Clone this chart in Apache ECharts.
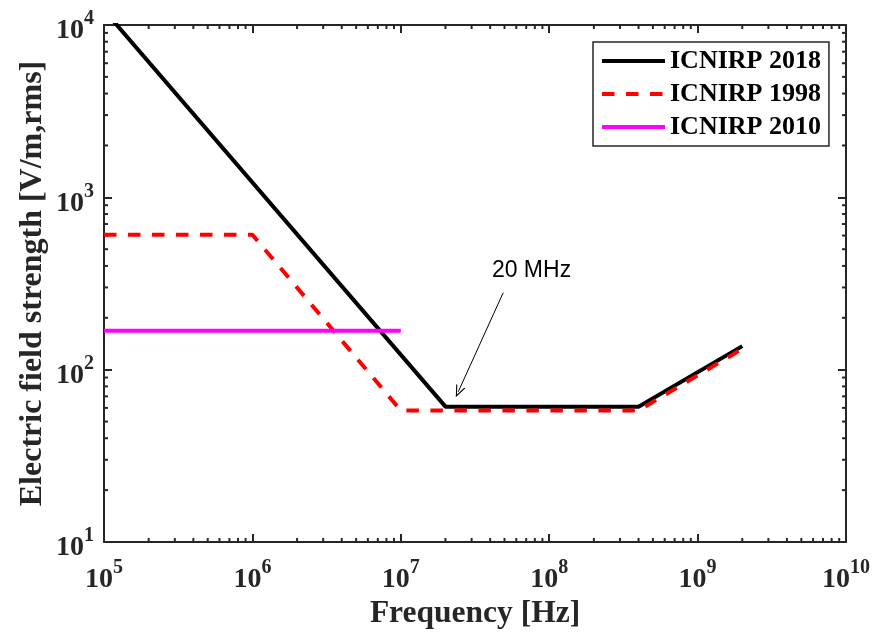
<!DOCTYPE html>
<html>
<head>
<meta charset="utf-8">
<script src="https://cdn.jsdelivr.net/npm/echarts@6/dist/echarts.min.js"></script>
<style>html,body{margin:0;padding:0;background:#fff}#c{width:875px;height:632px}</style>
</head>
<body>
<div id="c"></div>
<script>
// Data
const icnirp2018 = [[1e5, 12200], [2e7, 61], [4e8, 61], [2e9, 137]];
const icnirp1998 = [[1e5, 607], [1e6, 607], [1e7, 58], [4e8, 58], [2e9, 132]];
const icnirp2010 = [[1e5, 168], [1e7, 168]];
const seriesNames = ['ICNIRP 2018', 'ICNIRP 1998', 'ICNIRP 2010'];
const seriesColors = ['#000000', '#ff0000', '#ff00ff'];
const xRange = [1e5, 1e10];
const yRange = [1e1, 1e4];
const arrowTail = [4.9e7, 280];
const arrowTip = [2.44e7, 74.5];
const annotText = '20 MHz';
const annotPos = [7.6e7, 376];

const xMinor = [], yMinor = [];
for (let k = 5; k < 10; k++) for (let m = 2; m < 10; m++) xMinor.push([m * Math.pow(10, k), yRange[0]]);
for (let k = 1; k < 4; k++) for (let m = 2; m < 10; m++) yMinor.push([xRange[0], m * Math.pow(10, k)]);

const AX = '#262626';
const SERIF = '"Liberation Serif","Times New Roman",serif';
const fmt = v => '{b|10}{e|' + Math.round(Math.log10(v)) + '}';
const rich = {
  b: {fontSize: 28, fontWeight: 'bold', fontFamily: SERIF, color: AX, lineHeight: 36, verticalAlign: 'bottom'},
  e: {fontSize: 20, fontWeight: 'bold', fontFamily: SERIF, color: AX, lineHeight: 20, verticalAlign: 'top'}
};
function mkAxis(type, pos, show, extra) {
  return Object.assign({
    type: 'log', logBase: 10, position: pos,
    min: (type === 'x' ? xRange : yRange)[0], max: (type === 'x' ? xRange : yRange)[1],
    axisLine: {show: true, lineStyle: {color: AX, width: 2}},
    axisTick: {show: true, inside: true, length: 8, lineStyle: {color: AX, width: 2}},
    axisLabel: {show: show, formatter: fmt, rich: rich, margin: type === 'x' ? 16 : 10,
      padding: type === 'x' ? 0 : [4, 0, 0, 0]},
    splitLine: {show: false}, minorTick: {show: false}, nameMoveOverlap: false
  }, extra || {});
}

const chart = echarts.init(document.getElementById('c'));
chart.setOption({
  animation: false,
  backgroundColor: '#fff',
  grid: {left: 104, right: 29, top: 25, bottom: 90, containLabel: false, outerBoundsMode: 'none'},
  legend: {
    data: seriesNames.map(n => ({name: n, lineStyle: {width: 4}})),
    orient: 'vertical', left: 593, top: 42,
    itemWidth: 63, itemHeight: 14, itemGap: 5,
    padding: [5, 8, 5, 7],
    borderColor: AX, borderWidth: 1.5, backgroundColor: '#fff',
    itemStyle: {opacity: 0},
    textStyle: {fontSize: 26, fontWeight: 'bold', fontFamily: SERIF, color: '#000', lineHeight: 28}
  },
  xAxis: [
    mkAxis('x', 'bottom', true, {name: 'Frequency [Hz]', nameLocation: 'middle', nameGap: 56,
      nameTextStyle: {fontSize: 31.5, fontWeight: 'bold', fontFamily: SERIF, color: AX}}),
    mkAxis('x', 'top', false)
  ],
  yAxis: [
    mkAxis('y', 'left', true, {name: 'Electric field strength [V/m,rms]', nameLocation: 'middle', nameGap: 55,
      nameTextStyle: {fontSize: 32, fontWeight: 'bold', fontFamily: SERIF, color: AX}}),
    mkAxis('y', 'right', false)
  ],
  series: [
    {name: seriesNames[0], type: 'line', data: icnirp2018, symbol: 'none', clip: true,
      lineStyle: {color: seriesColors[0], width: 4}, itemStyle: {color: seriesColors[0]}, z: 3,
      markLine: {silent: true, symbol: ['none', 'path://M5,0 L10,10 L8.8,10 L5,2.4 L1.2,10 L0,10 Z'], symbolSize: [10, 12],
        lineStyle: {color: '#000', width: 1, type: 'solid'}, label: {show: false},
        data: [[{coord: arrowTail}, {coord: arrowTip}]]},
      markPoint: {silent: true, symbol: 'circle', symbolSize: 0,
        label: {show: true, position: 'inside', formatter: annotText, fontSize: 23, color: '#000', fontFamily: '"Liberation Sans",Arial,sans-serif'},
        data: [{coord: annotPos}]}
    },
    {name: seriesNames[1], type: 'line', data: icnirp1998, symbol: 'none', clip: true,
      lineStyle: {color: seriesColors[1], width: 4, type: [12.5, 11.5]}, itemStyle: {color: seriesColors[1]}, z: 3},
    {name: seriesNames[2], type: 'line', data: icnirp2010, symbol: 'none', clip: true,
      lineStyle: {color: seriesColors[2], width: 4}, itemStyle: {color: seriesColors[2]}, z: 3},
    {type: 'custom', silent: true, data: xMinor, clip: false, z: 2,
      renderItem: (p, api) => {
        const b = api.coord([api.value(0), yRange[0]]), t = api.coord([api.value(0), yRange[1]]);
        return {type: 'group', children: [
          {type: 'line', shape: {x1: b[0], y1: b[1], x2: b[0], y2: b[1] - 4}, style: {stroke: AX, lineWidth: 2}},
          {type: 'line', shape: {x1: t[0], y1: t[1], x2: t[0], y2: t[1] + 4}, style: {stroke: AX, lineWidth: 2}}
        ]};
      }},
    {type: 'custom', silent: true, data: yMinor, clip: false, z: 2,
      renderItem: (p, api) => {
        const l = api.coord([xRange[0], api.value(1)]), r = api.coord([xRange[1], api.value(1)]);
        return {type: 'group', children: [
          {type: 'line', shape: {x1: l[0], y1: l[1], x2: l[0] + 4, y2: l[1]}, style: {stroke: AX, lineWidth: 2}},
          {type: 'line', shape: {x1: r[0], y1: r[1], x2: r[0] - 4, y2: r[1]}, style: {stroke: AX, lineWidth: 2}}
        ]};
      }}
  ]
});
</script>
</body>
</html>
